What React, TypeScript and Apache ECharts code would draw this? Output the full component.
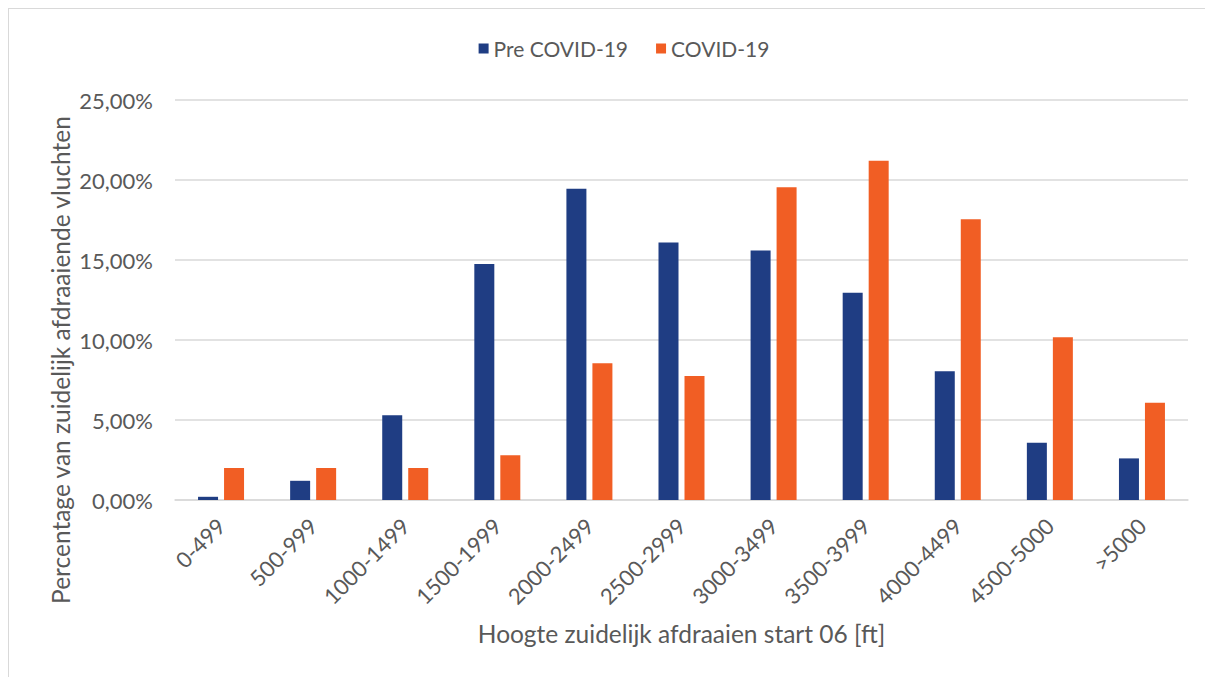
import React, { useEffect, useRef } from "react";
import * as echarts from "echarts";

const categories = ["0-499", "500-999", "1000-1499", "1500-1999", "2000-2499", "2500-2999", "3000-3499", "3500-3999", "4000-4499", "4500-5000", ">5000"];
const preCovid = [0.2, 1.2, 5.3, 14.75, 19.45, 16.1, 15.6, 12.95, 8.05, 3.58, 2.6];
const covid = [2.0, 2.0, 2.0, 2.8, 8.55, 7.75, 19.55, 21.2, 17.55, 10.17, 6.08];
const seriesNames = ["Pre COVID-19", "COVID-19"];
const yTicks = { min: 0, max: 25, interval: 5 };

const FONT = "Lato";
const GREY = "#595959";

export default function App() {
  const ref = useRef<HTMLDivElement>(null);
  useEffect(() => {
    if (!ref.current) return;
    const chart = echarts.init(ref.current, undefined, { renderer: "svg" });
    chart.setOption({
      animation: false,
      textStyle: { fontFamily: FONT },
      legend: {
        top: 24,
        left: "center",
        itemWidth: 10,
        itemHeight: 10,
        itemGap: 28,
        icon: "rect",
        textStyle: { fontFamily: FONT, fontSize: 21, color: GREY },
        data: seriesNames,
      },
      grid: { left: 166, top: 91, width: 1013, height: 400 },
      xAxis: {
        type: "category",
        data: categories,
        axisLine: { lineStyle: { color: "#d9d9d9", width: 1.5 } },
        axisTick: { show: false },
        axisLabel: { rotate: 45, fontSize: 22, color: GREY, fontFamily: FONT, margin: 22, interval: 0 },
        name: "Hoogte zuidelijk afdraaien start 06 [ft]",
        nameLocation: "middle",
        nameGap: 121,
        nameTextStyle: { fontSize: 24.5, color: GREY, fontFamily: FONT, verticalAlign: "top" },
      },
      yAxis: {
        type: "value",
        min: yTicks.min,
        max: yTicks.max,
        interval: yTicks.interval,
        axisLine: { show: false },
        axisTick: { show: false },
        splitLine: { lineStyle: { color: "#d9d9d9", width: 1.5 } },
        axisLabel: {
          fontSize: 22,
          color: GREY,
          fontFamily: FONT,
          margin: 22,
          formatter: (v: number) => v.toFixed(2).replace(".", ",") + "%",
        },
      },
      graphic: [
        {
          type: "text",
          x: 51,
          y: 351,
          rotation: Math.PI / 2,
          style: {
            text: "Percentage van zuidelijk afdraaiende vluchten",
            fontFamily: FONT,
            fontSize: 24.5,
            fill: GREY,
            align: "center",
            verticalAlign: "middle",
          },
        },
      ],
      series: [
        {
          name: seriesNames[0],
          type: "bar",
          data: preCovid,
          barWidth: 20,
          barGap: "30%",
          itemStyle: { color: "#1F3D83" },
        },
        {
          name: seriesNames[1],
          type: "bar",
          data: covid,
          barWidth: 20,
          barGap: "30%",
          itemStyle: { color: "#F15E24" },
        },
      ],
    });
    return () => chart.dispose();
  }, []);
  return (
    <div
      ref={ref}
      style={{ width: 1230, height: 700, border: "1px solid #d9d9d9", background: "#fff" }}
    />
  );
}
